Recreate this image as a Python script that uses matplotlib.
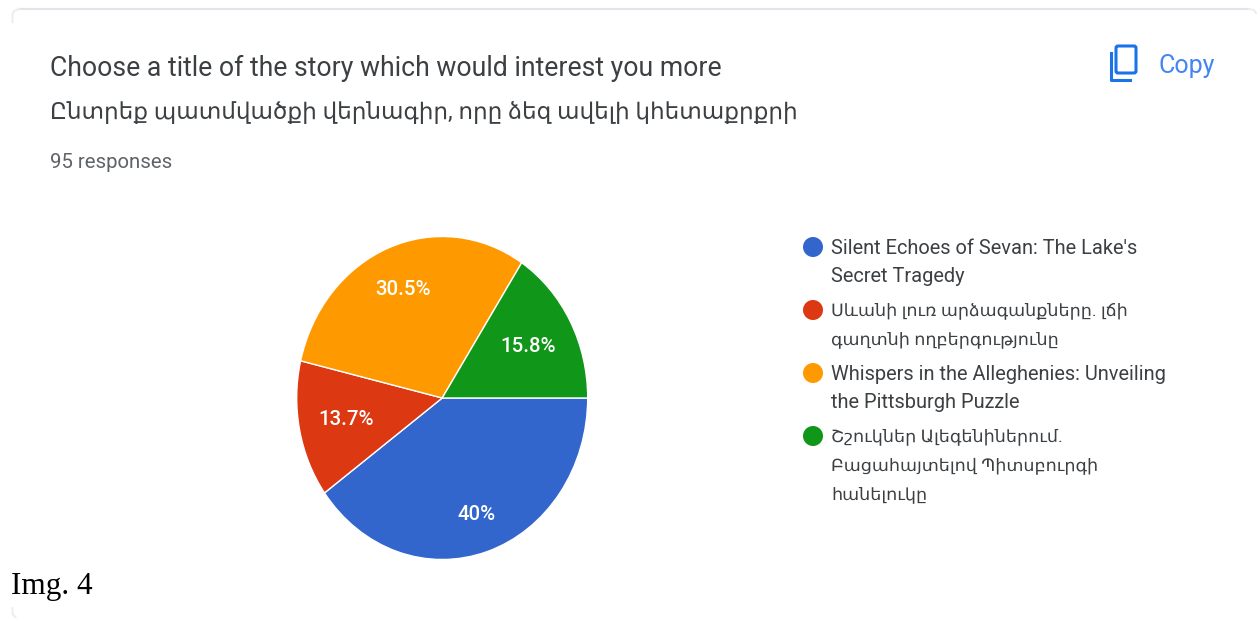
import matplotlib
matplotlib.use("Agg")
import matplotlib.pyplot as plt
from matplotlib.patches import FancyBboxPatch, Circle

# values
question_en = "Choose a title of the story which would interest you more"
question_hy = "Ընտրեք պատմվածքի վերնագիր, որը ձեզ ավելի կհետաքրքրի"
responses = "95 responses"
categories = [
    ["Silent Echoes of Sevan: The Lake's", "Secret Tragedy"],
    ["Սևանի լուռ արձագանքները. լճի", "գաղտնի ողբերգությունը"],
    ["Whispers in the Alleghenies: Unveiling", "the Pittsburgh Puzzle"],
    ["Շշուկներ Ալեգենիներում.", "Բացահայտելով Պիտսբուրգի", "հանելուկը"],
]
legend_sizes = [14.4, 12.6, 14.4, 12.6]
shares = [40, 13.7, 30.5, 15.8]
share_labels = ["40%", "13.7%", "30.5%", "15.8%"]
label_dist = [0.76, 0.677, 0.725, 0.67]
colors = ["#3366cc", "#dc3912", "#ff9900", "#109618"]

W, H = 1257, 618
FONTS = ["Roboto", "Noto Sans", "DejaVu Sans"]
TEXT = "#3c4043"
BLUE = "#1a73e8"
CARD = "#e3e4e9"

fig = plt.figure(figsize=(W / 100, H / 100), dpi=100)
ax = fig.add_axes([0, 0, 1, 1])
ax.set_xlim(0, W)
ax.set_ylim(0, H)
ax.axis("off")


def py(y):
    # picture rows count from the top
    return H - y


# what is left of the card border: top edge and the corners
ax.plot([19, W - 8], [py(9), py(9)], color=CARD, lw=1.5)
ax.plot([12.5, 12.5, 14, 19], [py(22), py(14), py(11), py(9)], color="#eeeef1", lw=1.5)
ax.plot([W - 8, W - 3, W - 1], [py(9), py(10), py(13)], color="#eeeef1", lw=1.5)
ax.plot([12.5, 12.5, 16], [py(608), py(614), py(618)], color="#eeeef1", lw=1.5)

# the screenshot is stretched, so the pie is taller than wide
pie_ax = fig.add_axes([296.7 / W, py(559.5) / H, 291 / W, 323 / H])
wedges, _, autotexts = pie_ax.pie(shares, colors=colors, startangle=0, counterclock=False,
                                  autopct=lambda p: "", pctdistance=1.0, radius=1,
                                  wedgeprops=dict(ec="white", lw=1.0))
for t, lab, d in zip(autotexts, share_labels, label_dist):
    t.set_text(lab)
    t.set_color("white")
    t.set_fontsize(14.7)
    t.set_fontfamily(FONTS)
    t.set_fontweight("medium")
    x, y = t.get_position()
    t.set_position((x * d, y * d))
pie_ax.set_xlim(-1, 1)
pie_ax.set_ylim(-1, 1)
pie_ax.set_aspect("auto")

ax.text(50, py(68.5), question_en, fontsize=19.2, family=FONTS, color=TEXT, va="center")
ax.text(50, py(112.5), question_hy, fontsize=16.7, family=FONTS, color=TEXT, va="center")
ax.text(50, py(162.5), responses, fontsize=14.7, family=FONTS, color="#5f6368", va="center")

# copy icon
ax.add_patch(FancyBboxPatch((1116, py(73)), 20, 27, boxstyle="round,pad=0,rounding_size=2",
                            fc="none", ec=BLUE, lw=2.2))
ax.plot([1110.5, 1110.5, 1130], [py(53), py(80), py(80)], color=BLUE, lw=2.2)
ax.text(1158, py(66), "Copy", fontsize=18, family=FONTS, color="#4285f4", va="center")

# legend
legend_rows = [247, 310, 373, 436]
for y, lines, size, c in zip(legend_rows, categories, legend_sizes, colors):
    ax.add_patch(Circle((813, py(y)), 10, fc=c, ec="none"))
    for i, line in enumerate(lines):
        ax.text(831, py(y + 29 * i + 1), line, fontsize=size, family=FONTS, color=TEXT,
                va="center")

ax.text(11, py(586.5), "Img. 4", fontsize=22.5, family="Liberation Serif", color="black",
        va="center")

fig.savefig("out.png", dpi=100, facecolor="white")
